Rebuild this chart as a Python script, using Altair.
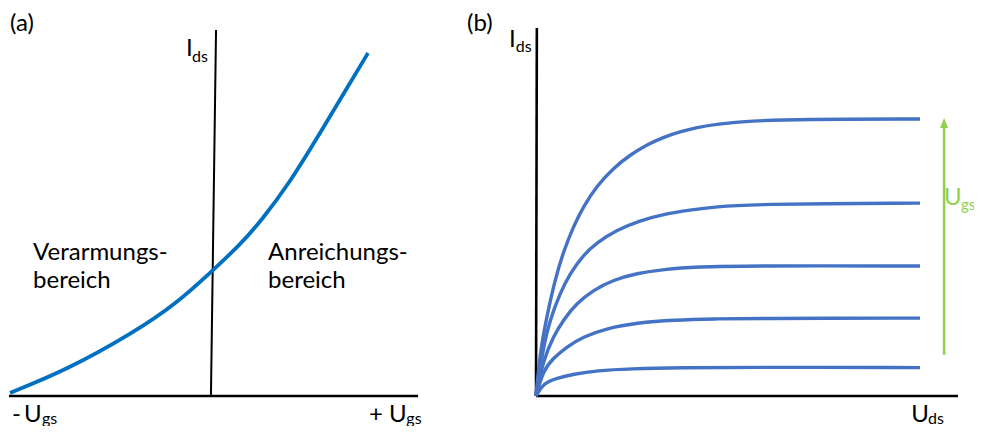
import altair as alt
import pandas as pd

W, H = 966, 418
FONT = "Lato"
BLACK = "#000000"
GREEN = "#92D050"

# ---------------- Panel (a): transfer characteristic ----------------
# units: Ugs from -10 (left end of axis) to +10 (right end), Ids from 0 to 10
a_ugs = [-10.0, -7.21, -3.97, -1.81, -0.10, 1.27, 2.35, 3.73, 5.05, 6.52, 7.55]
a_ids = [0.09, 0.76, 1.83, 2.70, 3.63, 4.39, 5.12, 6.22, 7.50, 8.95, 9.97]

a_axis_x = [-10.05, -0.15]
a_axis_x2 = [10.0, 0.10]
a_axis_y = [0.0, 0.0]
a_axis_y2 = [0.0, 10.64]
a_axis_w = [2.6, 2.0]

a_lab_text = ["(a)", "I", "ds", "Verarmungs-", "bereich", "Anreichungs-", "bereich",
              "-", "U", "gs", "+", "U", "gs"]
a_lab_x = [-10.0, -1.37, -1.08, -8.87, -8.87, 2.65, 2.65,
           -9.90, -9.31, -8.43, 7.60, 8.58, 9.43]
a_lab_y = [10.61, 9.88, 9.71, 3.95, 3.14, 3.95, 3.14,
           -0.756, -0.756, -0.814, -0.756, -0.756, -0.814]
a_lab_size = [24, 24, 16, 24, 24, 24, 24, 24, 24, 16, 24, 24, 16]

A_XDOM = [-10.098, 37.255]
A_YDOM = [-0.872, 11.279]

# ---------------- Panel (b): output characteristics ----------------
# units: Uds from 0 to 10 along axis, Ids from 0 to 10 along axis
b_curves_x = [
    [0, 0.095, 0.254, 0.450, 0.647, 0.884, 1.121, 1.438, 1.832, 2.227, 2.623,
     3.017, 3.412, 3.808, 4.282, 5.071, 6.256, 9.10],
    [0, 0.173, 0.332, 0.569, 0.806, 1.121, 1.438, 1.912, 2.464, 3.017, 3.649,
     4.282, 5.071, 9.10],
    [0, 0.173, 0.410, 0.647, 0.964, 1.358, 1.832, 2.386, 3.017, 3.808, 5.071, 9.10],
    [0, 0.173, 0.410, 0.727, 1.121, 1.675, 2.386, 3.254, 4.282, 5.071, 9.10],
    [0, 0.173, 0.491, 0.884, 1.438, 2.227, 3.412, 5.071, 9.10],
]
b_curves_y = [
    [0, 1.18, 2.18, 3.19, 3.96, 4.65, 5.20, 5.77, 6.26, 6.62, 6.90,
     7.11, 7.26, 7.38, 7.47, 7.56, 7.60, 7.61],
    [0, 1.35, 2.09, 2.82, 3.37, 3.87, 4.21, 4.56, 4.82, 4.99, 5.11,
     5.20, 5.27, 5.30],
    [0, 0.99, 1.63, 2.09, 2.55, 2.91, 3.19, 3.37, 3.48, 3.55, 3.58, 3.57],
    [0, 0.71, 1.04, 1.35, 1.63, 1.86, 2.01, 2.09, 2.12, 2.13, 2.14],
    [0, 0.35, 0.49, 0.60, 0.70, 0.75, 0.78, 0.79, 0.78],
]

b_axis_x = [0.0, 0.0]
b_axis_x2 = [10.0, 0.02]
b_axis_y = [0.0, 0.0]
b_axis_y2 = [0.0, 10.11]

b_arrow_x = 9.67
b_arrow_y = 1.13
b_arrow_y2 = 7.45
b_head_y = 7.50

b_lab_text = ["(b)", "I", "ds", "U", "ds", "U", "gs"]
b_lab_x = [-1.635, -0.64, -0.48, 8.89, 9.29, 9.668, 10.071]
b_lab_y = [10.02, 9.60, 9.45, -0.714, -0.769, 5.25, 5.11]
b_lab_size = [24, 24, 16, 24, 16, 24, 15]
b_lab_color = [BLACK, BLACK, BLACK, BLACK, BLACK, GREEN, GREEN]

B_XDOM = [-12.512, 10.379]
B_YDOM = [-0.824, 10.659]


def sx(dom):
    return alt.Scale(domain=dom, nice=False, zero=False)


# ---- panel (a) layers
a_curve_df = pd.DataFrame({"x": a_ugs, "y": a_ids})
a_axes_df = pd.DataFrame({"x": a_axis_x, "x2": a_axis_x2, "y": a_axis_y,
                          "y2": a_axis_y2, "w": a_axis_w})
a_lab_df = pd.DataFrame({"t": a_lab_text, "x": a_lab_x, "y": a_lab_y,
                         "s": a_lab_size})

a_curve = alt.Chart(a_curve_df).mark_line(
    color="#0070C0", strokeWidth=3.8, interpolate="basis", strokeCap="butt"
).encode(
    x=alt.X("x:Q", scale=sx(A_XDOM), axis=None),
    y=alt.Y("y:Q", scale=sx(A_YDOM), axis=None),
    order="x:Q",
)
a_axes = alt.Chart(a_axes_df).mark_rule(color=BLACK).encode(
    x=alt.X("x:Q", scale=sx(A_XDOM), axis=None),
    x2="x2:Q",
    y=alt.Y("y:Q", scale=sx(A_YDOM), axis=None),
    y2="y2:Q",
    strokeWidth=alt.StrokeWidth("w:Q", scale=None),
)
a_labels = alt.Chart(a_lab_df).mark_text(
    align="left", baseline="alphabetic", font=FONT, color=BLACK
).encode(
    x=alt.X("x:Q", scale=sx(A_XDOM), axis=None),
    y=alt.Y("y:Q", scale=sx(A_YDOM), axis=None),
    text="t:N",
    size=alt.Size("s:Q", scale=None),
)
panel_a = alt.layer(a_axes, a_curve, a_labels)

# ---- panel (b) layers
rows = []
for i, (xs, ys) in enumerate(zip(b_curves_x, b_curves_y)):
    for xv, yv in zip(xs, ys):
        rows.append({"x": xv, "y": yv, "c": i})
b_curve_df = pd.DataFrame(rows)
b_axes_df = pd.DataFrame({"x": b_axis_x, "x2": b_axis_x2, "y": b_axis_y,
                          "y2": b_axis_y2})
b_arrow_df = pd.DataFrame({"x": [b_arrow_x], "y": [b_arrow_y], "y2": [b_arrow_y2],
                           "hy": [b_head_y]})
b_lab_df = pd.DataFrame({"t": b_lab_text, "x": b_lab_x, "y": b_lab_y,
                         "s": b_lab_size, "c": b_lab_color})

b_curves = alt.Chart(b_curve_df).mark_line(
    color="#4472C4", strokeWidth=3.4, interpolate="basis"
).encode(
    x=alt.X("x:Q", scale=sx(B_XDOM), axis=None),
    y=alt.Y("y:Q", scale=sx(B_YDOM), axis=None),
    detail="c:N",
    order="x:Q",
)
b_axes = alt.Chart(b_axes_df).mark_rule(color=BLACK, strokeWidth=2.6).encode(
    x=alt.X("x:Q", scale=sx(B_XDOM), axis=None),
    x2="x2:Q",
    y=alt.Y("y:Q", scale=sx(B_YDOM), axis=None),
    y2="y2:Q",
)
b_arrow = alt.Chart(b_arrow_df).mark_rule(color=GREEN, strokeWidth=2.6).encode(
    x=alt.X("x:Q", scale=sx(B_XDOM), axis=None),
    y=alt.Y("y:Q", scale=sx(B_YDOM), axis=None),
    y2="y2:Q",
)
b_head = alt.Chart(b_arrow_df).mark_point(
    shape="M0,-1L0.8,1L-0.8,1Z", filled=True, size=100, color=GREEN,
    opacity=1, strokeWidth=0
).encode(
    x=alt.X("x:Q", scale=sx(B_XDOM), axis=None),
    y=alt.Y("hy:Q", scale=sx(B_YDOM), axis=None),
)
b_labels = alt.Chart(b_lab_df).mark_text(
    align="left", baseline="alphabetic", font=FONT
).encode(
    x=alt.X("x:Q", scale=sx(B_XDOM), axis=None),
    y=alt.Y("y:Q", scale=sx(B_YDOM), axis=None),
    text="t:N",
    size=alt.Size("s:Q", scale=None),
    color=alt.Color("c:N", scale=None),
)
panel_b = alt.layer(b_axes, b_curves, b_arrow, b_head, b_labels)

chart = alt.layer(panel_a, panel_b).resolve_scale(
    x="independent", y="independent", size="independent", color="independent",
    strokeWidth="independent"
).properties(
    width=W, height=H, padding=0,
    autosize=alt.AutoSizeParams(type="none"),
).configure_view(stroke=None)

chart.save("out.html", embed_options={"renderer": "svg", "actions": False})
